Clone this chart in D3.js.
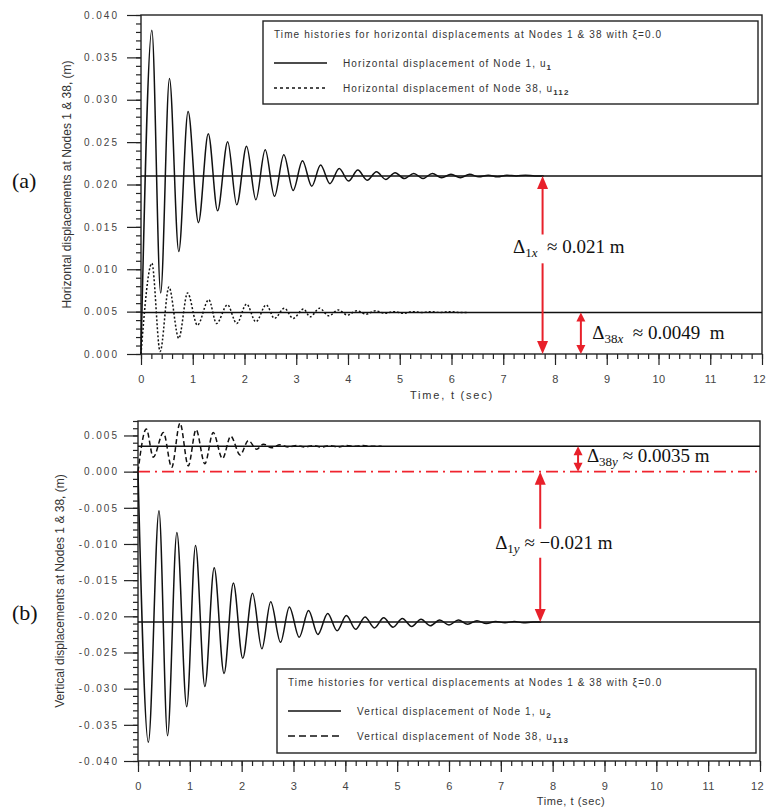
<!DOCTYPE html>
<html>
<head>
<meta charset="utf-8">
<script src="https://cdn.jsdelivr.net/npm/d3@7"></script>
<style>
  body { margin: 0; background: #fff; }
  svg text { font-family: Arial, "Liberation Sans", sans-serif; fill: #333; }
  .axis line { stroke: #222; stroke-width: 1.2; }
  .axis text { font-size: 10px; fill: #444; }
  .frame { fill: none; stroke: #222; stroke-width: 1.4; }
  .series { fill: none; stroke: #111; stroke-width: 1.5; }
  .ref { stroke: #111; stroke-width: 1.5; }
  .note { font-family: "Times New Roman", "Liberation Serif", serif; fill: #111; white-space: pre; }
  .red { stroke: #e8202a; fill: none; stroke-width: 2; }
  .head { fill: #e8202a; }
</style>
</head>
<body>
<svg id="chart" width="767" height="809"></svg>
<script>
// ---- data ----
var xTicks = [0, 1, 2, 3, 4, 5, 6, 7, 8, 9, 10, 11, 12];
var yTicksA = [0, 0.005, 0.010, 0.015, 0.020, 0.025, 0.030, 0.035, 0.040];
var yTicksB = [-0.040, -0.035, -0.030, -0.025, -0.020, -0.015, -0.010, -0.005, 0, 0.005];

// (a) horizontal displacement of node 1, u1 (peaks and troughs)
var tU1 = [0, 0.21, 0.38, 0.55, 0.73, 0.91, 1.11, 1.30, 1.48, 1.675, 1.85, 2.04, 2.22, 2.40, 2.58, 2.76, 2.94, 3.12, 3.30, 3.47, 3.65,
           3.83, 4.01, 4.19, 4.37, 4.55, 4.73, 4.91, 5.09, 5.27, 5.45, 5.63, 5.81, 5.99, 6.17, 6.35, 6.53, 6.71, 6.89, 7.07, 7.25, 7.43, 7.61, 7.78];
var vU1 = [0, 0.0382, 0.0072, 0.0325, 0.0121, 0.0286, 0.0155, 0.0260, 0.0169, 0.02505, 0.0176, 0.0245, 0.0182, 0.0241, 0.0186, 0.0235, 0.0193, 0.0228, 0.0198, 0.0223, 0.0201,
           0.0219, 0.0204, 0.0217, 0.0205, 0.0215, 0.0206, 0.0214, 0.0207, 0.0213, 0.0207, 0.0213, 0.0208, 0.0212, 0.0208, 0.0212, 0.0209, 0.0211, 0.0209, 0.0211, 0.0210, 0.0211, 0.0210, 0.0210];

// (a) horizontal displacement of node 38, u112
var tU112 = [0, 0.21, 0.37, 0.54, 0.73, 0.90, 1.09, 1.31, 1.46, 1.67, 1.85, 2.04, 2.22, 2.42, 2.58, 2.77, 2.94, 3.14, 3.27,
             3.45, 3.63, 3.81, 3.99, 4.17, 4.35, 4.53, 4.71, 4.89, 5.07, 5.25, 5.43, 5.61, 5.79, 5.97, 6.15, 6.30];
var vU112 = [0, 0.0107, 0.0003, 0.0079, 0.00185, 0.0072, 0.0034, 0.0064, 0.0036, 0.0058, 0.0036, 0.0059, 0.0038, 0.0058, 0.0042, 0.0054, 0.0042, 0.0053, 0.0044,
             0.0054, 0.0045, 0.0052, 0.0046, 0.0051, 0.0047, 0.0051, 0.0048, 0.0050, 0.0048, 0.0050, 0.0049, 0.0050, 0.0049, 0.0050, 0.0049, 0.0049];

// (b) vertical displacement of node 1, u2
var tU2 = [0, 0.20, 0.405, 0.57, 0.75, 0.94, 1.11, 1.29, 1.47, 1.66, 1.84, 2.02, 2.21, 2.39, 2.56, 2.75, 2.92, 3.11, 3.29, 3.47, 3.66,
           3.84, 4.02, 4.20, 4.38, 4.56, 4.74, 4.92, 5.10, 5.28, 5.46, 5.64, 5.82, 6.00, 6.18, 6.36, 6.54, 6.72, 6.90, 7.08, 7.26, 7.44, 7.62, 7.78];
var vU2 = [0, -0.0374, -0.0054, -0.0365, -0.0084, -0.0325, -0.0102, -0.0297, -0.0133, -0.0279, -0.0154, -0.0258, -0.0168, -0.0245, -0.0180, -0.0236, -0.0187, -0.0229, -0.0192, -0.0225, -0.0196,
           -0.0220, -0.0199, -0.0218, -0.0201, -0.0216, -0.0202, -0.0215, -0.0203, -0.0214, -0.0204, -0.0213, -0.0205, -0.0212, -0.0205, -0.0211, -0.0206, -0.0210, -0.0207, -0.0209, -0.0207, -0.0209, -0.0208, -0.0208];

// (b) vertical displacement of node 38, u113
var tU113 = [0, 0.16, 0.295, 0.49, 0.65, 0.81, 0.97, 1.12, 1.29, 1.45, 1.63, 1.79, 1.97, 2.13, 2.29, 2.42, 2.58,
             2.74, 2.90, 3.06, 3.22, 3.38, 3.54, 3.70, 3.86, 4.02, 4.18, 4.34, 4.50, 4.70];
var vU113 = [0, 0.0059, 0.0020, 0.0054, 0.0006, 0.0067, 0.0008, 0.0058, 0.0011, 0.0054, 0.0018, 0.0049, 0.0023, 0.0043, 0.0031, 0.0038, 0.0033,
             0.0037, 0.0034, 0.0036, 0.0034, 0.0036, 0.0034, 0.0036, 0.0034, 0.0036, 0.0035, 0.0036, 0.0035, 0.0035];

// reference levels
var refA = [0.021, 0.0049];
var refB = [0.0035, -0.0208];

// arrows: time, from, to, gap for the label
var arrowsA = [{t: 7.76, from: 0, to: 0.021, gap: [0.0107, 0.0141]}, {t: 8.50, from: 0, to: 0.0049}];
var arrowsB = [{t: 8.49, from: 0, to: 0.0035}, {t: 7.76, from: -0.0208, to: 0, gap: [-0.0119, -0.0079]}];
var notesA = [{t: 7.19, v: 0.0126, sub: '1x', txt: '  \u2248 0.021 m'}, {t: 8.72, v: 0.0025, sub: '38x', txt: '  \u2248 0.0049  m'}];
var notesB = [{t: 8.66, v: 0.0022, sub: '38y', txt: ' \u2248 0.0035 m'}, {t: 6.89, v: -0.0098, sub: '1y', txt: ' \u2248 \u22120.021 m'}];

var svg = d3.select('#chart');
var fmt = d3.format('.3f');

function panel(p) {
    var g = svg.append('g').attr('transform', 'translate(' + p.left + ',' + p.top + ')');
    var x = d3.scaleLinear().domain([0, 12]).range([0, p.width]);
    var y = d3.scaleLinear().domain(p.yDomain).range([p.height, 0]);

    // x axis, minor then major
    g.append('g').attr('class', 'axis')
        .attr('transform', 'translate(0,' + p.height + ')')
        .call(d3.axisBottom(x).tickValues(d3.range(0, 12.001, 0.2)).tickSize(5).tickFormat(''))
        .call(a => a.select('.domain').remove());
    g.append('g').attr('class', 'axis')
        .attr('transform', 'translate(0,' + p.height + ')')
        .call(d3.axisBottom(x).tickValues(xTicks).tickSize(11).tickPadding(10).tickFormat(d3.format('d')))
        .call(a => a.select('.domain').remove())
        .selectAll('text').style('font-size', '11px').style('letter-spacing', '0.4px')
        .attr('dx', d => d === 12 ? -3 : 0);

    // y axis
    g.append('g').attr('class', 'axis')
        .call(d3.axisLeft(y).tickValues(d3.range(Math.round(p.yDomain[0] * 1000), Math.round(p.yDomain[1] * 1000) + 1).map(d => d / 1000)).tickSize(5).tickFormat(''))
        .call(a => a.select('.domain').remove());
    g.append('g').attr('class', 'axis')
        .call(d3.axisLeft(y).tickValues(p.yTicks).tickSize(14).tickPadding(p.pad).tickFormat(d => fmt(d).replace('\u2212', '-')))
        .call(a => a.select('.domain').remove())
        .selectAll('text').style('letter-spacing', '2px');

    g.append('rect').attr('class', 'frame').attr('width', p.width).attr('height', p.height);

    // reference lines
    g.selectAll('.ref').data(p.refs).enter().append('line')
        .attr('class', 'ref')
        .attr('x1', x(0)).attr('x2', x(12))
        .attr('y1', d => y(d)).attr('y2', d => y(d));

    if (p.zeroLine) {
        g.append('line')
            .attr('x1', x(0)).attr('x2', x(12))
            .attr('y1', y(0)).attr('y2', y(0))
            .attr('stroke', '#f0242e').attr('stroke-width', 1.8)
            .attr('stroke-dasharray', '12,5,2,5');
    }

    var line = d3.line().x(d => x(d[0])).y(d => y(d[1])).curve(d3.curveMonotoneX);
    p.series.forEach(function(s) {
        g.append('path')
            .attr('class', 'series')
            .attr('d', line(d3.zip(s.t, s.v)))
            .attr('stroke-dasharray', s.dash);
    });

    // red arrows
    function head(xp, yp, dir, len, w) {
        return 'M' + xp + ',' + yp + 'L' + (xp - w / 2) + ',' + (yp - dir * len) + 'L' + (xp + w / 2) + ',' + (yp - dir * len) + 'Z';
    }
    p.arrows.forEach(function(a) {
        var xp = x(a.t), y0 = y(a.from), y1 = y(a.to);
        var small = Math.abs(y0 - y1) < 60;
        var len = small ? 9 : 13, w = small ? 9 : 11;
        var segs = a.gap ? [[y1, y(a.gap[1])], [y(a.gap[0]), y0]] : [[y1, y0]];
        segs.forEach(s => {
            g.append('line').attr('class', 'red')
                .attr('x1', xp).attr('x2', xp)
                .attr('y1', Math.max(s[0], y1 + len - 1)).attr('y2', Math.min(s[1], y0 - len + 1));
        });
        g.append('path').attr('class', 'head').attr('d', head(xp, y1, -1, len, w));
        g.append('path').attr('class', 'head').attr('d', head(xp, y0, 1, len, w));
    });

    p.notes.forEach(function(n) {
        var t = g.append('text').attr('class', 'note')
            .attr('x', x(n.t)).attr('y', y(n.v) + 6)
            .style('font-size', '19px');
        t.append('tspan').text('\u0394');
        t.append('tspan').attr('dy', 4).style('font-size', '13px').text(n.sub.replace(/[xy]$/, ''));
        t.append('tspan').style('font-size', '13px').style('font-style', 'italic').text(n.sub.slice(-1));
        t.append('tspan').attr('dy', -4).text(n.txt);
    });
    return {g: g, x: x, y: y};
}

var A = panel({
    left: 141, top: 15, width: 621, height: 339, yDomain: [0, 0.040], yTicks: yTicksA, pad: 8,
    refs: refA, arrows: arrowsA, notes: notesA,
    series: [{t: tU1, v: vU1, dash: null}, {t: tU112, v: vU112, dash: '2,2'}]
});
var B = panel({
    left: 138, top: 421, width: 622, height: 340, yDomain: [-0.040, 0.007], yTicks: yTicksB, pad: 5,
    refs: refB, arrows: arrowsB, notes: notesB, zeroLine: true,
    series: [{t: tU2, v: vU2, dash: null}, {t: tU113, v: vU113, dash: '5,3'}]
});

// axis titles
svg.append('text').attr('x', 452).attr('y', 399).attr('text-anchor', 'middle')
    .style('font-size', '11px').style('letter-spacing', '1.8px').text('Time, t (sec)');
svg.append('text').attr('x', 571).attr('y', 805).attr('text-anchor', 'middle')
    .style('font-size', '11px').style('letter-spacing', '0.6px').text('Time, t (sec)');
svg.append('text').attr('transform', 'translate(71,184.5) rotate(-90)').attr('text-anchor', 'middle')
    .style('font-size', '12px').text('Horizontal displacements at Nodes 1 & 38, (m)');
svg.append('text').attr('transform', 'translate(64,591) rotate(-90)').attr('text-anchor', 'middle')
    .style('font-size', '12px').text('Vertical displacements at Nodes 1 & 38, (m)');

// panel letters
svg.append('text').attr('class', 'note').attr('x', 12).attr('y', 188).style('font-size', '22px').text('(a)');
svg.append('text').attr('class', 'note').attr('x', 12).attr('y', 620).style('font-size', '22px').text('(b)');

// legends
function legend(box, title, items) {
    var g = svg.append('g').attr('transform', 'translate(' + box.x + ',' + box.y + ')');
    g.append('rect').attr('width', box.w).attr('height', box.h)
        .attr('fill', '#fff').attr('stroke', '#222').attr('stroke-width', 1.4);
    g.append('text').attr('x', 11).attr('y', 17).style('font-size', '10px').style('letter-spacing', '1.1px').text(title);
    items.forEach(function(it, i) {
        var yy = 42 + i * 25;
        g.append('line').attr('x1', 11).attr('x2', 64).attr('y1', yy).attr('y2', yy)
            .attr('stroke', '#111').attr('stroke-width', 1.3).attr('stroke-dasharray', it.dash);
        var t = g.append('text').attr('x', 80).attr('y', yy + 4).style('font-size', '10px').style('letter-spacing', '1.1px');
        t.append('tspan').text(it.label);
        t.append('tspan').attr('dy', 3).style('font-size', '8px').style('font-weight', 'bold').text(it.sub);
    });
}
legend({x: 263, y: 21, w: 495, h: 83},
    'Time histories for horizontal displacements at Nodes 1 & 38 with \u03be=0.0',
    [{label: 'Horizontal displacement of Node 1, u', sub: '1', dash: null},
     {label: 'Horizontal displacement of Node 38, u', sub: '112', dash: '3,3'}]);
legend({x: 277, y: 669, w: 479, h: 84},
    'Time histories for vertical displacements at Nodes 1 & 38 with \u03be=0.0',
    [{label: 'Vertical displacement of Node 1, u', sub: '2', dash: null},
     {label: 'Vertical displacement of Node 38, u', sub: '113', dash: '7,4'}]);
</script>
</body>
</html>
